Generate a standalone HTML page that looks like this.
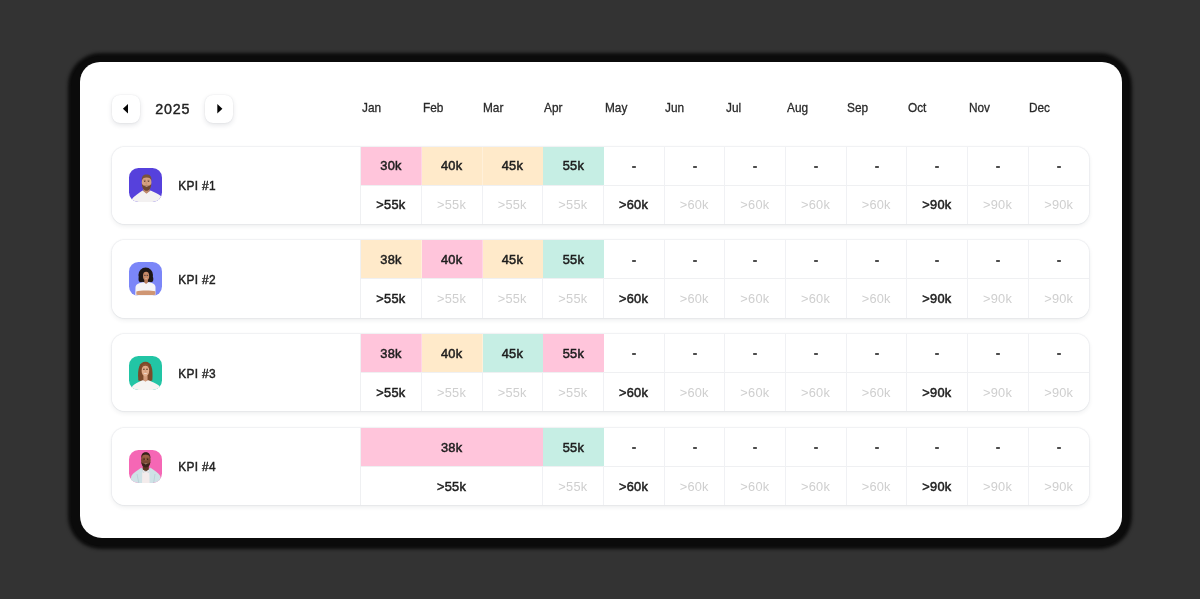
<!DOCTYPE html><html><head><meta charset="utf-8"><title>KPI</title><style>
*{box-sizing:border-box;margin:0;padding:0}
html,body{width:1200px;height:599px;overflow:hidden;background:#333333}
body{position:relative;font-family:"Liberation Sans",sans-serif;color:#1f1f1f}
.card{position:absolute;left:79.500px;top:62.400px;width:1042px;height:476px;background:#fff;border-radius:20px 20px 21px 22px}
.cardsh{position:absolute;left:71px;top:56px;width:1058px;height:490px;background:#0b0b0b;border-radius:30px;box-shadow:0 .3px 3.500px 2.500px #0c0c0c}
.layer{position:absolute;left:0;top:0;width:1200px;height:599px;will-change:transform}
.nav{position:absolute;width:28px;height:28px;top:94.500px;border-radius:8px;background:#fff;box-shadow:0 2px 5px rgba(40,50,70,.13),0 0 1.500px rgba(40,50,70,.12)}
.nav svg{position:absolute;left:0;top:0}
.year{position:absolute;left:155.300px;top:100.300px;font-size:14.300px;line-height:18px;font-weight:400;color:#222;letter-spacing:.75px;-webkit-text-stroke:.4px #222}
.mon{position:absolute;top:99.500px;font-size:13px;line-height:16px;color:#2a2a2a;-webkit-text-stroke:.3px #2a2a2a;transform:scaleX(.91);transform-origin:0 0;white-space:nowrap}
.row{position:absolute;left:112px;width:977px;height:77.400px;border-radius:13px;background:#fff;overflow:hidden}
.rowsh{position:absolute;left:112px;width:977px;height:77.400px;border-radius:13px;box-shadow:0 2px 5px rgba(40,45,60,.085),0 0 0 1px rgba(243,244,246,.9),0 0 3px rgba(40,45,60,.08)}
.av{position:absolute;width:33.600px;height:33.800px;border-radius:9.500px;overflow:hidden}
.kpi{position:absolute;font-size:11.900px;line-height:16px;color:#222;-webkit-text-stroke:.42px #222;letter-spacing:.35px;white-space:nowrap}
.c{position:absolute;height:38.200px;font-size:12.800px;line-height:38.200px;text-align:center;padding-right:.4px;letter-spacing:.25px;color:#1e1e1e;-webkit-text-stroke:.5px #1e1e1e;border-right:1px solid #f0f1f4}
.c.b{border-top:1px solid #eff0f2;height:39.200px;line-height:38.800px}
.s .c{line-height:40.200px}
.s .c.b{line-height:40.800px}
.c.m{color:#cfcfcf;-webkit-text-stroke:0}
.c.f{border-right:1px solid rgba(255,255,255,.3)}
.c.l{border-right:0}
.vl{position:absolute;top:0;width:1px;height:78px;background:#eff0f2}
.dash{position:absolute;width:4px;height:2px;background:#4c4c4c;border-radius:.7px}
</style></head><body>
<div class="cardsh"></div><div class="card"></div><div class="layer">
<div class="nav" style="left:112px"><svg width="28" height="28" viewBox="0 0 28 28"><path d="M16 9.100 L10.900 13.850 L16 18.600 Z" fill="#050505"/></svg></div>
<div class="year">2025</div>
<div class="nav" style="left:205px"><svg width="28" height="28" viewBox="0 0 28 28"><path d="M12.300 9.100 L17.400 13.850 L12.300 18.600 Z" fill="#050505"/></svg></div>
<div class="mon" style="left:362.10px">Jan</div>
<div class="mon" style="left:422.77px">Feb</div>
<div class="mon" style="left:483.43px">Mar</div>
<div class="mon" style="left:544.10px">Apr</div>
<div class="mon" style="left:604.77px">May</div>
<div class="mon" style="left:665.43px">Jun</div>
<div class="mon" style="left:726.10px">Jul</div>
<div class="mon" style="left:786.77px">Aug</div>
<div class="mon" style="left:847.43px">Sep</div>
<div class="mon" style="left:908.10px">Oct</div>
<div class="mon" style="left:968.77px">Nov</div>
<div class="mon" style="left:1029.43px">Dec</div>
<div class="rowsh" style="top:146.60px"></div>
<div class="row" style="top:146.60px">
<div class="av" style="left:16.600px;top:21.900px;background:#5641dc"><svg viewBox="0 0 34 34" width="34" height="34"><defs><filter id="bl0" x="-10%" y="-10%" width="120%" height="120%"><feGaussianBlur stdDeviation="0.35"/></filter></defs><g filter="url(#bl0)"><path d="M1.500 35 L2.800 31.200 C5 28.500 9 25.500 13.600 22.600 L17.600 25 L21.600 22.600 C25 24 29 26 32.300 28.200 L34 35 Z" fill="#f3f1f1"/><path d="M14.300 18.500 h6.400 v4.600 l-3.200 2.600 l-3.200 -2.600 z" fill="#c08a6a"/><ellipse cx="17.600" cy="14.600" rx="4.800" ry="7.600" fill="#d6a181"/><path d="M12.800 13 C12.300 8.300 14.500 6.500 17.600 6.500 C20.800 6.500 23 8.300 22.400 13 C21.800 10.600 20.600 9.600 17.600 9.600 C14.700 9.600 13.400 10.600 12.800 13 Z" fill="#7a523a"/><path d="M12.900 15.500 C13 20.500 15 22.800 17.600 22.800 C20.200 22.800 22.200 20.500 22.300 15.500 C21.600 17.500 20.300 17.800 17.600 17.800 C14.900 17.800 13.600 17.500 12.900 15.500 Z" fill="#6d4732"/><path d="M15.600 18.300 q2 1.300 4 0 q-2 .4 -4 0z" fill="#f1e3dc"/><ellipse cx="15.700" cy="13.300" rx=".8" ry=".5" fill="#4a3326"/><ellipse cx="19.500" cy="13.300" rx=".8" ry=".5" fill="#4a3326"/><path d="M14.600 12.300 h2.200 M18.400 12.300 h2.200" stroke="#6b4a38" stroke-width=".5"/><path d="M17.300 13.500 L17 16 L18.200 16" stroke="#b98465" stroke-width=".5" fill="none"/></g></svg></div>
<div class="kpi" style="left:66.200px;top:31.700px">KPI #1</div>
<div class="vl" style="left:248.25px"></div>
<div class="c f" style="left:249.25px;top:0;width:60.97px;background:#ffc5db">30k</div>
<div class="c f" style="left:309.92px;top:0;width:60.97px;background:#ffeaca">40k</div>
<div class="c f" style="left:370.58px;top:0;width:60.97px;background:#ffeaca">45k</div>
<div class="c f l" style="left:431.25px;top:0;width:60.67px;background:#c6eee4">55k</div>
<div class="c" style="left:491.92px;top:0;width:60.67px"></div>
<div class="dash" style="left:520.00px;top:19.40px"></div>
<div class="c" style="left:552.58px;top:0;width:60.67px"></div>
<div class="dash" style="left:581.00px;top:19.40px"></div>
<div class="c" style="left:613.25px;top:0;width:60.67px"></div>
<div class="dash" style="left:641.00px;top:19.40px"></div>
<div class="c" style="left:673.92px;top:0;width:60.67px"></div>
<div class="dash" style="left:702.00px;top:19.40px"></div>
<div class="c" style="left:734.58px;top:0;width:60.67px"></div>
<div class="dash" style="left:763.00px;top:19.40px"></div>
<div class="c" style="left:795.25px;top:0;width:60.67px"></div>
<div class="dash" style="left:823.00px;top:19.40px"></div>
<div class="c" style="left:855.92px;top:0;width:60.67px"></div>
<div class="dash" style="left:884.00px;top:19.40px"></div>
<div class="c l" style="left:916.58px;top:0;width:60.67px"></div>
<div class="dash" style="left:945.00px;top:19.40px"></div>
<div class="c b" style="left:249.25px;top:38.200px;width:60.67px">&gt;55k</div>
<div class="c b m" style="left:309.92px;top:38.200px;width:60.67px">&gt;55k</div>
<div class="c b m" style="left:370.58px;top:38.200px;width:60.67px">&gt;55k</div>
<div class="c b m" style="left:431.25px;top:38.200px;width:60.67px">&gt;55k</div>
<div class="c b" style="left:491.92px;top:38.200px;width:60.67px">&gt;60k</div>
<div class="c b m" style="left:552.58px;top:38.200px;width:60.67px">&gt;60k</div>
<div class="c b m" style="left:613.25px;top:38.200px;width:60.67px">&gt;60k</div>
<div class="c b m" style="left:673.92px;top:38.200px;width:60.67px">&gt;60k</div>
<div class="c b m" style="left:734.58px;top:38.200px;width:60.67px">&gt;60k</div>
<div class="c b" style="left:795.25px;top:38.200px;width:60.67px">&gt;90k</div>
<div class="c b m" style="left:855.92px;top:38.200px;width:60.67px">&gt;90k</div>
<div class="c b m l" style="left:916.58px;top:38.200px;width:60.67px">&gt;90k</div>
</div>
<div class="rowsh" style="top:240.30px"></div>
<div class="row s" style="top:240.30px">
<div class="av" style="left:16.600px;top:21.900px;background:#7b86f8"><svg viewBox="0 0 34 34" width="34" height="34"><defs><filter id="bl1" x="-10%" y="-10%" width="120%" height="120%"><feGaussianBlur stdDeviation="0.35"/></filter></defs><g filter="url(#bl1)"><ellipse cx="16.700" cy="13" rx="7.300" ry="7.500" fill="#1e1613"/><ellipse cx="12" cy="17" rx="2.500" ry="3.200" fill="#1e1613"/><ellipse cx="21.800" cy="17" rx="2.500" ry="3.200" fill="#1e1613"/><path d="M6.200 35 L6.500 25 C7 21.800 10.500 20.800 14.200 20.200 L20 20.200 C23.500 20.800 26 21.800 26.500 25 L26.500 35 Z" fill="#f5f4f7"/><path d="M15.300 16.500 h3.600 v4 l-1.800 1.600 l-1.800 -1.600 z" fill="#b87b5b"/><ellipse cx="17.100" cy="14" rx="3.100" ry="4.300" fill="#c88a68"/><path d="M15.800 16 q1.300 1 2.600 0 q-1.300 .4 -2.600 0z" fill="#fff"/><ellipse cx="15.900" cy="13.300" rx=".7" ry=".45" fill="#2a1b16"/><ellipse cx="18.400" cy="13.300" rx=".7" ry=".45" fill="#2a1b16"/><path d="M14.900 13.300 h4.500" stroke="#5a4a55" stroke-width=".35"/><path d="M7.300 29.500 C11 28.300 22 28.300 26.300 29.300 L26.300 32.800 C22 33.600 11 33.600 7.300 32.800 Z" fill="#cf9673"/><path d="M6.200 33 h20.500 v2 h-20.500z" fill="#f5f4f7"/></g></svg></div>
<div class="kpi" style="left:66.200px;top:31.700px">KPI #2</div>
<div class="vl" style="left:248.25px"></div>
<div class="c f" style="left:249.25px;top:0;width:60.97px;background:#ffeaca">38k</div>
<div class="c f" style="left:309.92px;top:0;width:60.97px;background:#ffc5db">40k</div>
<div class="c f" style="left:370.58px;top:0;width:60.97px;background:#ffeaca">45k</div>
<div class="c f l" style="left:431.25px;top:0;width:60.67px;background:#c6eee4">55k</div>
<div class="c" style="left:491.92px;top:0;width:60.67px"></div>
<div class="dash" style="left:520.00px;top:19.70px"></div>
<div class="c" style="left:552.58px;top:0;width:60.67px"></div>
<div class="dash" style="left:581.00px;top:19.70px"></div>
<div class="c" style="left:613.25px;top:0;width:60.67px"></div>
<div class="dash" style="left:641.00px;top:19.70px"></div>
<div class="c" style="left:673.92px;top:0;width:60.67px"></div>
<div class="dash" style="left:702.00px;top:19.70px"></div>
<div class="c" style="left:734.58px;top:0;width:60.67px"></div>
<div class="dash" style="left:763.00px;top:19.70px"></div>
<div class="c" style="left:795.25px;top:0;width:60.67px"></div>
<div class="dash" style="left:823.00px;top:19.70px"></div>
<div class="c" style="left:855.92px;top:0;width:60.67px"></div>
<div class="dash" style="left:884.00px;top:19.70px"></div>
<div class="c l" style="left:916.58px;top:0;width:60.67px"></div>
<div class="dash" style="left:945.00px;top:19.70px"></div>
<div class="c b" style="left:249.25px;top:38.200px;width:60.67px">&gt;55k</div>
<div class="c b m" style="left:309.92px;top:38.200px;width:60.67px">&gt;55k</div>
<div class="c b m" style="left:370.58px;top:38.200px;width:60.67px">&gt;55k</div>
<div class="c b m" style="left:431.25px;top:38.200px;width:60.67px">&gt;55k</div>
<div class="c b" style="left:491.92px;top:38.200px;width:60.67px">&gt;60k</div>
<div class="c b m" style="left:552.58px;top:38.200px;width:60.67px">&gt;60k</div>
<div class="c b m" style="left:613.25px;top:38.200px;width:60.67px">&gt;60k</div>
<div class="c b m" style="left:673.92px;top:38.200px;width:60.67px">&gt;60k</div>
<div class="c b m" style="left:734.58px;top:38.200px;width:60.67px">&gt;60k</div>
<div class="c b" style="left:795.25px;top:38.200px;width:60.67px">&gt;90k</div>
<div class="c b m" style="left:855.92px;top:38.200px;width:60.67px">&gt;90k</div>
<div class="c b m l" style="left:916.58px;top:38.200px;width:60.67px">&gt;90k</div>
</div>
<div class="rowsh" style="top:334.00px"></div>
<div class="row s" style="top:334.00px">
<div class="av" style="left:16.600px;top:21.900px;background:#22c5a5"><svg viewBox="0 0 34 34" width="34" height="34"><defs><filter id="bl2" x="-10%" y="-10%" width="120%" height="120%"><feGaussianBlur stdDeviation="0.35"/></filter></defs><g filter="url(#bl2)"><path d="M9.300 24.500 C8.300 12 10.500 5.800 16.400 5.800 C22.300 5.800 24.300 12 23.300 24.500 C21 25.500 12 25.500 9.300 24.500 Z" fill="#7c4829"/><path d="M1.500 35 L3.500 30 C6 27.500 10 26 13.500 24.300 L19.500 24.300 C23 26 27.500 27.500 30.500 30 L32.500 35 Z" fill="#f6f4f2"/><path d="M14.400 19.500 h4.200 v4.800 l-2.100 1.500 l-2.100 -1.500 z" fill="#d39b7b"/><ellipse cx="16.400" cy="14.500" rx="3.800" ry="6" fill="#e2ad8c"/><path d="M12.500 13 C12.300 9 14 7.500 16.400 7.500 C18.800 7.500 20.500 9 20.300 13 C19.500 10.500 18.500 9.800 16.400 9.800 C14.300 9.800 13.300 10.500 12.500 13Z" fill="#8a5230"/><path d="M14.500 17.200 q1.900 1.800 3.800 0 q-1.900 .6 -3.800 0z" fill="#fff"/><ellipse cx="14.900" cy="13.400" rx=".8" ry=".5" fill="#4a3023"/><ellipse cx="18" cy="13.400" rx=".8" ry=".5" fill="#4a3023"/><path d="M14 12.400 h1.900 M17.100 12.400 h1.900" stroke="#8a5a3c" stroke-width=".45"/><path d="M16.500 13.800 L16.200 15.800 L17.200 15.800" stroke="#c48f70" stroke-width=".45" fill="none"/></g></svg></div>
<div class="kpi" style="left:66.200px;top:31.700px">KPI #3</div>
<div class="vl" style="left:248.25px"></div>
<div class="c f" style="left:249.25px;top:0;width:60.97px;background:#ffc5db">38k</div>
<div class="c f" style="left:309.92px;top:0;width:60.97px;background:#ffeaca">40k</div>
<div class="c f" style="left:370.58px;top:0;width:60.97px;background:#c6eee4">45k</div>
<div class="c f l" style="left:431.25px;top:0;width:60.67px;background:#ffc5db">55k</div>
<div class="c" style="left:491.92px;top:0;width:60.67px"></div>
<div class="dash" style="left:520.00px;top:19.00px"></div>
<div class="c" style="left:552.58px;top:0;width:60.67px"></div>
<div class="dash" style="left:581.00px;top:19.00px"></div>
<div class="c" style="left:613.25px;top:0;width:60.67px"></div>
<div class="dash" style="left:641.00px;top:19.00px"></div>
<div class="c" style="left:673.92px;top:0;width:60.67px"></div>
<div class="dash" style="left:702.00px;top:19.00px"></div>
<div class="c" style="left:734.58px;top:0;width:60.67px"></div>
<div class="dash" style="left:763.00px;top:19.00px"></div>
<div class="c" style="left:795.25px;top:0;width:60.67px"></div>
<div class="dash" style="left:823.00px;top:19.00px"></div>
<div class="c" style="left:855.92px;top:0;width:60.67px"></div>
<div class="dash" style="left:884.00px;top:19.00px"></div>
<div class="c l" style="left:916.58px;top:0;width:60.67px"></div>
<div class="dash" style="left:945.00px;top:19.00px"></div>
<div class="c b" style="left:249.25px;top:38.200px;width:60.67px">&gt;55k</div>
<div class="c b m" style="left:309.92px;top:38.200px;width:60.67px">&gt;55k</div>
<div class="c b m" style="left:370.58px;top:38.200px;width:60.67px">&gt;55k</div>
<div class="c b m" style="left:431.25px;top:38.200px;width:60.67px">&gt;55k</div>
<div class="c b" style="left:491.92px;top:38.200px;width:60.67px">&gt;60k</div>
<div class="c b m" style="left:552.58px;top:38.200px;width:60.67px">&gt;60k</div>
<div class="c b m" style="left:613.25px;top:38.200px;width:60.67px">&gt;60k</div>
<div class="c b m" style="left:673.92px;top:38.200px;width:60.67px">&gt;60k</div>
<div class="c b m" style="left:734.58px;top:38.200px;width:60.67px">&gt;60k</div>
<div class="c b" style="left:795.25px;top:38.200px;width:60.67px">&gt;90k</div>
<div class="c b m" style="left:855.92px;top:38.200px;width:60.67px">&gt;90k</div>
<div class="c b m l" style="left:916.58px;top:38.200px;width:60.67px">&gt;90k</div>
</div>
<div class="rowsh" style="top:427.70px"></div>
<div class="row s" style="top:427.70px">
<div class="av" style="left:16.600px;top:21.900px;background:#f567b5"><svg viewBox="0 0 34 34" width="34" height="34"><defs><filter id="bl3" x="-10%" y="-10%" width="120%" height="120%"><feGaussianBlur stdDeviation="0.35"/></filter></defs><g filter="url(#bl3)"><path d="M1 35 L2.300 26 C4 23 8.500 20.500 12.300 17.800 L16.800 21 L21.500 17.800 C25.500 20.500 29.500 23 31.300 26 L32.500 35 Z" fill="#cfe2e6"/><path d="M13.300 20 L20.300 20 L20.600 35 L13 35 Z" fill="#f4ecec"/><path d="M13.800 14 h6 v5.500 l-3 2 l-3 -2 z" fill="#5b3524"/><ellipse cx="16.800" cy="10.100" rx="4.800" ry="7.600" fill="#7b4a34"/><ellipse cx="16.800" cy="7.500" rx="3.300" ry="3" fill="#9a5f44"/><path d="M12.100 8.500 C12 3.800 14.300 2.300 16.800 2.300 C19.300 2.300 21.600 3.800 21.500 8.500 C20.800 5.500 19.300 4.600 16.800 4.600 C14.300 4.600 12.800 5.500 12.100 8.500Z" fill="#36201a"/><path d="M12.300 11.500 C12.500 15.800 14.500 17.700 16.800 17.700 C19.100 17.700 21.100 15.800 21.300 11.500 C20.500 13.600 19.500 13.900 16.800 13.900 C14.100 13.900 13.100 13.600 12.300 11.500Z" fill="#3d241b"/><path d="M15 13.600 q1.800 1.500 3.600 0 q-1.800 .5 -3.600 0z" fill="#f5e9e4"/><ellipse cx="15.100" cy="9.300" rx=".8" ry=".5" fill="#24150f"/><ellipse cx="18.500" cy="9.300" rx=".8" ry=".5" fill="#24150f"/><path d="M14.100 8.300 h2 M17.500 8.300 h2" stroke="#2c1a13" stroke-width=".5"/><path d="M8 24 L10 34 M26 24 L24.500 34" stroke="#b4ccd3" stroke-width=".7" fill="none"/><path d="M12.300 17.800 L14.300 22.500 L16.800 21 L19.500 22.500 L21.500 17.800" stroke="#b9d0d6" stroke-width=".6" fill="none"/></g></svg></div>
<div class="kpi" style="left:66.200px;top:31.700px">KPI #4</div>
<div class="vl" style="left:248.25px"></div>
<div class="c f" style="left:249.25px;top:0;width:182.30px;background:#ffc5db">38k</div>
<div class="c f l" style="left:431.25px;top:0;width:60.67px;background:#c6eee4">55k</div>
<div class="c" style="left:491.92px;top:0;width:60.67px"></div>
<div class="dash" style="left:520.00px;top:19.30px"></div>
<div class="c" style="left:552.58px;top:0;width:60.67px"></div>
<div class="dash" style="left:581.00px;top:19.30px"></div>
<div class="c" style="left:613.25px;top:0;width:60.67px"></div>
<div class="dash" style="left:641.00px;top:19.30px"></div>
<div class="c" style="left:673.92px;top:0;width:60.67px"></div>
<div class="dash" style="left:702.00px;top:19.30px"></div>
<div class="c" style="left:734.58px;top:0;width:60.67px"></div>
<div class="dash" style="left:763.00px;top:19.30px"></div>
<div class="c" style="left:795.25px;top:0;width:60.67px"></div>
<div class="dash" style="left:823.00px;top:19.30px"></div>
<div class="c" style="left:855.92px;top:0;width:60.67px"></div>
<div class="dash" style="left:884.00px;top:19.30px"></div>
<div class="c l" style="left:916.58px;top:0;width:60.67px"></div>
<div class="dash" style="left:945.00px;top:19.30px"></div>
<div class="c b" style="left:249.25px;top:38.200px;width:182.00px">&gt;55k</div>
<div class="c b m" style="left:431.25px;top:38.200px;width:60.67px">&gt;55k</div>
<div class="c b" style="left:491.92px;top:38.200px;width:60.67px">&gt;60k</div>
<div class="c b m" style="left:552.58px;top:38.200px;width:60.67px">&gt;60k</div>
<div class="c b m" style="left:613.25px;top:38.200px;width:60.67px">&gt;60k</div>
<div class="c b m" style="left:673.92px;top:38.200px;width:60.67px">&gt;60k</div>
<div class="c b m" style="left:734.58px;top:38.200px;width:60.67px">&gt;60k</div>
<div class="c b" style="left:795.25px;top:38.200px;width:60.67px">&gt;90k</div>
<div class="c b m" style="left:855.92px;top:38.200px;width:60.67px">&gt;90k</div>
<div class="c b m l" style="left:916.58px;top:38.200px;width:60.67px">&gt;90k</div>
</div>
</div></body></html>
